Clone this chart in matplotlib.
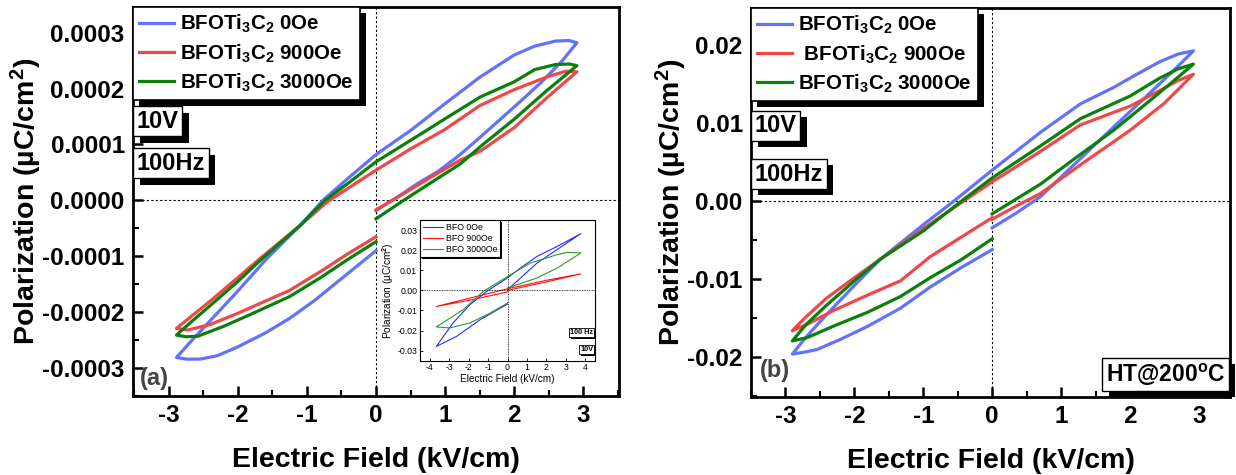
import numpy as np
import matplotlib
matplotlib.use('Agg')
import matplotlib.pyplot as plt
import matplotlib.patheffects as pe
from matplotlib.ticker import MultipleLocator, FormatStrFormatter

plt.rcParams['font.family'] = ['Liberation Sans', 'DejaVu Sans']
plt.rcParams['font.weight'] = 'bold'
plt.rcParams['axes.labelweight'] = 'bold'
plt.rcParams['axes.unicode_minus'] = False
plt.rcParams['mathtext.fontset'] = 'custom'
plt.rcParams['mathtext.bf'] = 'Liberation Sans:bold'
plt.rcParams['mathtext.rm'] = 'Liberation Sans:bold'
plt.rcParams['mathtext.default'] = 'bf'

# ---- panel (a): P-E loops, P in units of 1e-4 uC/cm2 ----
# path: start at E=0, up to +Emax, back down to -Emax, up to E=0
a_e_0 = [0, 0.3, 0.6, 0.9, 1.2, 1.5, 1.8, 2.1, 2.4, 2.7, 2.91,
         2.8, 2.6, 2.3, 2.0, 1.5, 1.0, 0.5, 0, -0.4, -0.77, -1.1, -1.58, -2.0, -2.4, -2.7, -2.89,
         -2.75, -2.55, -2.3, -2.0, -1.6, -1.25, -0.9, -0.6, -0.3, 0]
a_p_0 = [-0.18, 0.05, 0.3, 0.52, 0.8, 1.12, 1.45, 1.78, 2.12, 2.5, 2.82,
         2.86, 2.85, 2.76, 2.6, 2.2, 1.73, 1.25, 0.82, 0.4, 0.0, -0.45, -1.04, -1.62, -2.15, -2.55, -2.81,
         -2.84, -2.84, -2.78, -2.62, -2.37, -2.11, -1.8, -1.5, -1.2, -0.9]
a_e_900 = [0, 0.4, 0.8, 1.22, 1.51, 2.0, 2.47, 2.91,
           2.75, 2.5, 2.0, 1.51, 1.0, 0.5, 0, -0.35, -0.7, -1.1, -1.68, -2.0, -2.4, -2.7, -2.89,
           -2.73, -2.4, -2.0, -1.6, -1.25, -0.8, -0.4, 0]
a_p_900 = [-0.17, 0.12, 0.42, 0.72, 0.88, 1.3, 1.83, 2.30,
           2.31, 2.22, 1.98, 1.70, 1.27, 0.92, 0.54, 0.26, -0.02, -0.45, -1.04, -1.38, -1.8, -2.1, -2.29,
           -2.32, -2.22, -2.02, -1.8, -1.61, -1.27, -0.95, -0.65]
a_e_3000 = [0, 0.4, 0.8, 1.22, 1.51, 2.0, 2.47, 2.91,
            2.8, 2.6, 2.3, 2.0, 1.51, 1.0, 0.73, 0, -0.4, -0.74, -1.1, -1.7, -2.0, -2.4, -2.7, -2.89,
            -2.75, -2.58, -2.2, -1.8, -1.25, -0.8, -0.4, 0]
a_p_3000 = [-0.33, 0.0, 0.32, 0.65, 0.96, 1.45, 1.96, 2.41,
            2.44, 2.43, 2.34, 2.12, 1.85, 1.46, 1.25, 0.69, 0.31, 0.0, -0.45, -1.1, -1.45, -1.88, -2.2, -2.41,
            -2.44, -2.43, -2.25, -2.03, -1.72, -1.38, -1.05, -0.74]

# ---- panel (b): HT@200C, P in units of 0.01 uC/cm2 ----
b_e_0 = [0, 0.35, 0.7, 1.2, 1.71, 2.3, 2.6, 2.92,
         2.7, 2.43, 2.1, 1.76, 1.28, 0.7, 0, -0.56, -1.0, -1.62, -2.0, -2.4, -2.7, -2.9,
         -2.7, -2.54, -2.2, -1.8, -1.33, -0.9, -0.45, 0]
b_p_0 = [-0.34, -0.15, 0.06, 0.48, 0.91, 1.4, 1.65, 1.93,
         1.89, 1.79, 1.63, 1.46, 1.25, 0.885, 0.4, 0.0, -0.3, -0.74, -1.08, -1.45, -1.74, -1.96,
         -1.93, -1.9, -1.77, -1.6, -1.37, -1.1, -0.85, -0.62]
b_e_900 = [0, 0.35, 0.7, 1.3, 2.0, 2.5, 2.92,
           2.7, 2.43, 2.0, 1.28, 0.7, 0, -0.42, -1.0, -1.62, -2.0, -2.4, -2.7, -2.9,
           -2.69, -2.3, -1.8, -1.33, -0.9, -0.45, 0]
b_p_900 = [-0.23, -0.06, 0.1, 0.48, 0.91, 1.26, 1.63,
           1.55, 1.42, 1.22, 0.98, 0.64, 0.25, 0.0, -0.35, -0.74, -0.98, -1.24, -1.48, -1.66,
           -1.58, -1.4, -1.2, -1.02, -0.71, -0.46, -0.21]
b_e_3000 = [0, 0.35, 0.7, 1.2, 1.76, 2.3, 2.6, 2.92,
            2.7, 2.43, 2.0, 1.28, 0.7, 0, -0.45, -1.0, -1.62, -2.0, -2.4, -2.7, -2.9,
            -2.69, -2.3, -1.8, -1.33, -0.9, -0.45, 0]
b_p_3000 = [-0.16, 0.03, 0.22, 0.55, 0.91, 1.3, 1.52, 1.76,
            1.7, 1.58, 1.35, 1.06, 0.71, 0.3, 0.0, -0.38, -0.74, -1.02, -1.33, -1.58, -1.79,
            -1.75, -1.6, -1.42, -1.22, -0.98, -0.75, -0.48]

# ---- inset: BFO loops, P in units of 0.01 uC/cm2 ----
i_e_0 = [0, 1.52, 3.77, 2.56, 1.52, 0.66, 0, -1.07, -1.93, -2.8, -3.66, -2.62, -1.41, 0]
i_p_0 = [0.03, 1.36, 2.82, 2.19, 1.69, 1.11, 0.62, -0.05, -0.71, -1.62, -2.79, -2.29, -1.46, -0.68]
i_e_900 = [0, 2.0, 3.77, 2.0, 0, -2.0, -3.66, -2.0, 0]
i_p_900 = [0.0, 0.42, 0.82, 0.5, 0.08, -0.4, -0.8, -0.5, -0.08]
i_e_3000 = [0, 1.52, 2.56, 3.77, 3.08, 2.56, 1.18, 0, -1.24, -2.28, -3.66, -2.97, -1.93, -0.9, 0]
i_p_3000 = [0.12, 0.62, 1.11, 1.86, 1.89, 1.78, 1.36, 0.69, -0.05, -0.96, -1.82, -1.87, -1.62, -1.13, -0.63]

labels_a = ['BFOTi$_3$C$_2$ 0Oe', 'BFOTi$_3$C$_2$ 900Oe', 'BFOTi$_3$C$_2$ 3000Oe']
labels_b = ['BFOTi$_3$C$_2$ 0Oe', ' BFOTi$_3$C$_2$ 900Oe', 'BFOTi$_3$C$_2$ 3000Oe']
labels_inset = ['BFO 0Oe', 'BFO 900Oe', 'BFO 3000Oe']
colors = ['#6272ff', '#f04848', '#0a800a']
colors_inset = ['#2a2aff', '#ff1010', '#2a9a2a']

shadow = [pe.withSimplePatchShadow(offset=(4.5, -4.5), shadow_rgbFace='k', alpha=1.0)]
shadow_small = [pe.withSimplePatchShadow(offset=(1.5, -1.5), shadow_rgbFace='k', alpha=1.0)]


def style_main(ax):
    for s in ax.spines.values():
        s.set_linewidth(2)
    ax.tick_params(which='major', direction='in', length=7, width=1.8, labelsize=17.5, pad=6)
    ax.tick_params(which='minor', direction='in', length=4, width=1.5)
    ax.xaxis.set_major_locator(MultipleLocator(1))
    ax.xaxis.set_minor_locator(MultipleLocator(0.5))
    ax.axhline(0, color='k', lw=0.8, ls=(0, (2, 2)), zorder=1)
    ax.axvline(0, color='k', lw=0.8, ls=(0, (2, 2)), zorder=1)
    ax.set_xlabel('Electric Field (kV/cm)', fontsize=20.5, labelpad=14)
    ax.set_ylabel('Polarization (µC/cm$^2$)', fontsize=20.5, labelpad=-1)


def box_text(ax, x, y, s, size, ha='left', fx=shadow):
    t = ax.text(x, y, s, transform=ax.transAxes, fontsize=size, ha=ha, va='center', zorder=6,
                bbox=dict(boxstyle='square,pad=0.15', fc='w', ec='k', lw=1.0))
    t.get_bbox_patch().set_path_effects(fx)
    return t


def main_legend(ax, labels):
    lg = ax.legend(labels, loc='upper left', borderaxespad=0, fontsize=14.8, fancybox=False, edgecolor='k',
                   framealpha=1, handlelength=1.7, handletextpad=0.3, labelspacing=0.33, borderpad=0.3)
    lg.get_frame().set_linewidth(1.2)
    lg.get_frame().set_path_effects(shadow)
    lg.set_zorder(7)
    return lg


fig = plt.figure(figsize=(12.36, 4.75), dpi=100)

# panel (a)
ax1 = fig.add_axes([0.1076, 0.1663, 0.3932, 0.819])
for e, p, c in zip([a_e_0, a_e_900, a_e_3000], [a_p_0, a_p_900, a_p_3000], colors):
    ax1.plot(np.array(e), np.array(p) * 1e-4, color=c, lw=2.3, zorder=3)
ax1.set_xlim(-3.52, 3.52)
ax1.set_ylim(-0.00035, 0.000346)
ax1.yaxis.set_major_locator(MultipleLocator(0.0001))
ax1.yaxis.set_minor_locator(MultipleLocator(0.00005))
ax1.yaxis.set_major_formatter(FormatStrFormatter('%.4f'))
style_main(ax1)
main_legend(ax1, labels_a)
box_text(ax1, 0.008, 0.706, '10V', 17)
box_text(ax1, 0.008, 0.598, '100Hz', 17)
ax1.text(0.045, 0.046, '(a)', transform=ax1.transAxes, fontsize=17, color='#444444', ha='center', va='center')

# inset
axi = fig.add_axes([0.3398, 0.2406, 0.1416, 0.2962])
for e, p, c in zip([i_e_0, i_e_900, i_e_3000], [i_p_0, i_p_900, i_p_3000], colors_inset):
    axi.plot(np.array(e), np.array(p) * 0.01, color=c, lw=0.8)
axi.set_xlim(-4.5, 4.5)
axi.set_ylim(-0.035, 0.035)
axi.axhline(0, color='k', lw=0.6, ls=(0, (1, 1)))
axi.axvline(0, color='k', lw=0.6, ls=(0, (1, 1)))
for s in axi.spines.values():
    s.set_linewidth(0.8)
axi.set_xticks(np.arange(-4, 5, 1), [str(v) for v in range(-4, 5)], fontsize=6.3, fontweight='normal')
yt = np.arange(-0.03, 0.031, 0.01)
axi.set_yticks(yt, ['%.2f' % v for v in yt], fontsize=6.3, fontweight='normal')
axi.tick_params(direction='in', length=2.5, width=0.6, pad=2)
axi.set_xlabel('Electric Field (kV/cm)', fontsize=7.2, fontweight='normal', labelpad=1)
axi.set_ylabel('Polarization (µC/cm$^2$)', fontsize=7.2, fontweight='normal', labelpad=1)
legi = axi.legend(labels_inset, loc='upper left', borderaxespad=0, fancybox=False, edgecolor='k',
                  framealpha=1, handlelength=2.3, handletextpad=0.4, labelspacing=0.25, borderpad=0.3,
                  prop={'size': 6.3, 'weight': 'normal'})
legi.get_frame().set_linewidth(0.8)
legi.get_frame().set_path_effects(shadow_small)
ti = axi.text(0.99, 0.2, '100 Hz', transform=axi.transAxes, fontsize=5.3, ha='right', va='center',
              bbox=dict(boxstyle='square,pad=0.15', fc='w', ec='k', lw=0.6))
ti.get_bbox_patch().set_path_effects(shadow_small)
ti = axi.text(0.99, 0.08, '10V', transform=axi.transAxes, fontsize=5.3, ha='right', va='center',
              bbox=dict(boxstyle='square,pad=0.15', fc='w', ec='k', lw=0.6))
ti.get_bbox_patch().set_path_effects(shadow_small)

# panel (b)
ax2 = fig.add_axes([0.6076, 0.1642, 0.3875, 0.819])
for e, p, c in zip([b_e_0, b_e_900, b_e_3000], [b_p_0, b_p_900, b_p_3000], colors):
    ax2.plot(np.array(e), np.array(p) * 0.01, color=c, lw=2.3, zorder=3)
ax2.set_xlim(-3.5, 3.45)
ax2.set_ylim(-0.0251, 0.0248)
ax2.yaxis.set_major_locator(MultipleLocator(0.01))
ax2.yaxis.set_minor_locator(MultipleLocator(0.005))
ax2.yaxis.set_major_formatter(FormatStrFormatter('%.2f'))
style_main(ax2)
main_legend(ax2, labels_b)
box_text(ax2, 0.008, 0.697, '10V', 17)
box_text(ax2, 0.008, 0.573, '100Hz', 17)
ax2.text(0.05, 0.069, '(b)', transform=ax2.transAxes, fontsize=17, color='#444444', ha='center', va='center')
box_text(ax2, 0.99, 0.058, 'HT@200$^o$C', 16.5, ha='right')

fig.savefig('out.png', dpi=100)
